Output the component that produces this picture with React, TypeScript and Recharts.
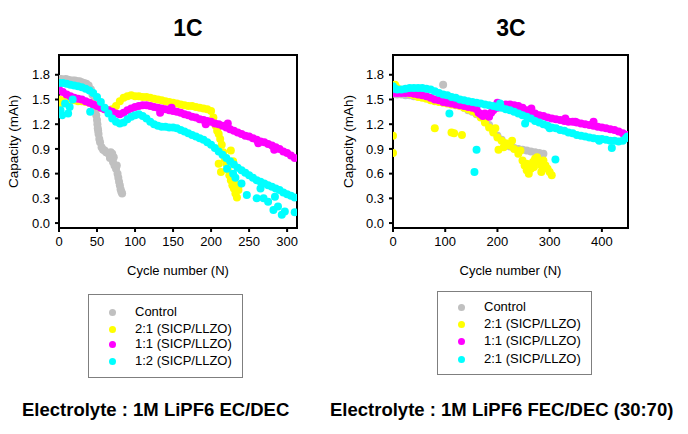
import React from 'react';
import { ScatterChart, Scatter, XAxis, YAxis, ReferenceArea } from 'recharts';

type Pt = [number, number];

const names1C = ['Control', '2:1 (SICP/LLZO)', '1:1 (SICP/LLZO)', '1:2 (SICP/LLZO)'];
const names3C = ['Control', '2:1 (SICP/LLZO)', '1:1 (SICP/LLZO)', '2:1 (SICP/LLZO)'];
const colors = ['#C0C0C0', '#FFFF00', '#FF00FF', '#00FFFF'];

const yTicks = [0, 0.3, 0.6, 0.9, 1.2, 1.5, 1.8];
const xTicks1C = [0, 50, 100, 150, 200, 250, 300];
const xTicks3C = [0, 100, 200, 300, 400];
const yDomain: [number, number] = [-0.06, 2.04];
const xDomain1C: [number, number] = [0, 313];
const xDomain3C: [number, number] = [0, 450];

// ---------- 1C ----------
const control1C: Pt[] = [
  [0, 1.75], [3, 1.75], [6, 1.74], [9, 1.75], [12, 1.74], [15, 1.73], [18, 1.73], [21, 1.73], [24, 1.72],
  [27, 1.72], [30, 1.71], [33, 1.70], [36, 1.69], [39, 1.67], [42, 1.62], [44, 1.56], [46, 1.48], [47, 1.43],
  [48, 1.38], [49, 1.31], [50, 1.25], [50.5, 1.20], [51, 1.15], [51.5, 1.12], [52, 1.08], [53, 1.02], [54, 0.98],
  [56, 0.92], [58, 0.89], [60, 0.88], [62, 0.86], [64, 0.85], [66, 0.84], [67, 0.79], [68, 0.86], [70, 0.84],
  [71, 0.74], [72, 0.80], [73, 0.70], [75, 0.66], [76, 0.70], [77, 0.60], [78, 0.55], [79, 0.50], [80, 0.46],
  [81, 0.41], [82, 0.38], [83, 0.36],
];
const ratio21_1C: Pt[] = [
  [0, 1.50], [1, 1.44], [3, 1.46], [5, 1.49], [10, 1.50], [15, 1.49], [20, 1.49], [25, 1.48], [30, 1.48], [35, 1.47],
  [40, 1.46], [45, 1.44], [50, 1.42], [55, 1.40], [60, 1.38], [65, 1.37], [70, 1.38], [75, 1.42], [80, 1.48],
  [85, 1.52], [90, 1.54], [95, 1.55], [100, 1.54], [105, 1.54], [110, 1.53], [115, 1.53], [120, 1.52], [125, 1.51],
  [130, 1.50], [135, 1.49], [140, 1.48], [145, 1.47], [150, 1.46], [155, 1.45], [160, 1.44], [165, 1.43],
  [170, 1.42], [175, 1.42], [180, 1.41], [185, 1.40], [190, 1.39], [195, 1.38], [200, 1.36], [203, 1.28],
  [206, 1.18], [208, 1.12], [210, 1.08], [212, 1.02], [214, 0.95], [216, 0.86], [218, 0.78], [220, 0.72],
  [222, 0.65], [224, 0.58], [226, 0.52], [228, 0.46], [230, 0.42], [232, 0.36], [234, 0.31], [236, 0.40],
  [210, 0.72], [213, 0.62], [226, 0.88], [229, 0.75], [231, 0.48], [236, 0.45],
];
const ratio11_1C: Pt[] = [
  [0, 1.62], [5, 1.59], [10, 1.56], [15, 1.54], [20, 1.52], [25, 1.51], [30, 1.50], [35, 1.48], [40, 1.46],
  [45, 1.44], [50, 1.42], [55, 1.40], [60, 1.38], [65, 1.37], [70, 1.35], [75, 1.33], [80, 1.32], [85, 1.34],
  [90, 1.37], [95, 1.39], [100, 1.41], [105, 1.42], [110, 1.43], [115, 1.43], [120, 1.42], [125, 1.41],
  [130, 1.40], [135, 1.39], [140, 1.38], [145, 1.37], [150, 1.36], [155, 1.35], [160, 1.34], [165, 1.32],
  [170, 1.31], [175, 1.29], [180, 1.28], [185, 1.26], [190, 1.25], [195, 1.24], [200, 1.23], [205, 1.21],
  [210, 1.20], [215, 1.18], [220, 1.16], [225, 1.14], [230, 1.12], [235, 1.10], [240, 1.08], [245, 1.06],
  [250, 1.05], [255, 1.03], [260, 1.01], [265, 0.99], [270, 0.98], [275, 0.96], [280, 0.94], [285, 0.92],
  [290, 0.90], [295, 0.87], [300, 0.85], [305, 0.82], [310, 0.79],
  [133, 1.34], [148, 1.40], [193, 1.20], [222, 1.21], [262, 0.97], [283, 0.89],
];
const ratio12_1C: Pt[] = [
  [0, 1.70], [5, 1.70], [10, 1.69], [15, 1.68], [20, 1.67], [25, 1.66], [30, 1.65], [35, 1.63], [40, 1.61],
  [45, 1.58], [50, 1.53], [55, 1.47], [60, 1.40], [65, 1.33], [70, 1.27], [75, 1.23], [80, 1.21], [85, 1.22],
  [90, 1.26], [95, 1.29], [100, 1.31], [105, 1.32], [110, 1.30], [115, 1.27], [120, 1.23], [125, 1.20],
  [130, 1.18], [135, 1.17], [140, 1.17], [145, 1.16], [150, 1.16], [155, 1.15], [160, 1.13], [165, 1.11],
  [170, 1.09], [175, 1.07], [180, 1.05], [185, 1.03], [190, 1.01], [195, 0.98], [200, 0.95], [205, 0.91],
  [210, 0.87], [215, 0.83], [220, 0.79], [225, 0.75], [230, 0.71], [235, 0.67], [240, 0.64], [245, 0.61],
  [250, 0.58], [255, 0.55], [260, 0.52], [265, 0.50], [270, 0.48], [275, 0.46], [280, 0.44], [285, 0.42],
  [290, 0.40], [295, 0.37], [300, 0.35], [305, 0.33], [310, 0.31],
  [2, 1.37], [4, 1.31], [8, 1.45], [12, 1.33], [14, 1.41], [18, 1.50], [41, 1.35], [221, 0.66], [229, 0.60],
  [232, 0.55], [240, 0.48], [247, 0.34], [260, 0.30], [265, 0.42], [269, 0.30], [275, 0.26], [282, 0.16],
  [284, 0.32], [288, 0.20], [293, 0.10], [297, 0.14], [310, 0.13],
];

// ---------- 3C ----------
const control3C: Pt[] = [
  [0, 1.57], [8, 1.56], [16, 1.56], [24, 1.55], [32, 1.55], [40, 1.54], [48, 1.54], [56, 1.53], [64, 1.52],
  [72, 1.51], [80, 1.50], [88, 1.49], [96, 1.68], [104, 1.48], [112, 1.47], [120, 1.45], [128, 1.43], [136, 1.40],
  [144, 1.37], [152, 1.35], [160, 1.32], [168, 1.29], [176, 1.26], [184, 1.19], [192, 1.12], [200, 1.06],
  [208, 1.01], [216, 0.96], [224, 0.93], [232, 0.91], [240, 0.90], [248, 0.89], [256, 0.88], [264, 0.87],
  [272, 0.86], [280, 0.85], [288, 0.84],
];
const ratio21_3C: Pt[] = [
  [0, 1.65], [4, 1.68], [8, 1.64], [16, 1.61], [24, 1.59], [32, 1.57], [40, 1.55], [48, 1.53], [56, 1.52],
  [64, 1.51], [72, 1.49], [80, 1.48], [88, 1.47], [96, 1.46], [104, 1.45], [112, 1.44], [120, 1.43], [128, 1.42],
  [136, 1.40], [144, 1.38], [152, 1.36], [160, 1.33], [168, 1.28], [176, 1.22], [184, 1.16], [192, 1.10],
  [200, 1.04], [208, 1.00], [216, 0.97], [224, 0.94], [232, 0.90], [240, 0.84], [248, 0.76], [252, 0.70],
  [256, 0.64], [260, 0.60], [264, 0.66], [268, 0.74], [272, 0.78], [276, 0.80], [280, 0.74], [284, 0.70],
  [288, 0.76], [292, 0.70], [296, 0.66], [300, 0.62], [304, 0.58],
  [0, 1.06], [0, 0.85], [80, 1.15], [112, 1.10], [117, 1.09], [132, 1.07], [196, 1.15], [202, 0.89],
  [212, 0.92], [228, 1.00], [244, 0.88], [256, 0.72], [270, 0.68], [284, 0.62],
];
const ratio11_3C: Pt[] = [
  [0, 1.58], [8, 1.58], [16, 1.58], [24, 1.58], [32, 1.58], [40, 1.57], [48, 1.56], [56, 1.55], [64, 1.54],
  [72, 1.52], [80, 1.50], [88, 1.49], [96, 1.47], [104, 1.46], [112, 1.45], [120, 1.44], [128, 1.43], [136, 1.42],
  [144, 1.41], [152, 1.40], [160, 1.38], [164, 1.34], [168, 1.32], [172, 1.30], [176, 1.33], [180, 1.31],
  [184, 1.29], [188, 1.34], [192, 1.37], [200, 1.40], [208, 1.42], [216, 1.44], [224, 1.44], [232, 1.43],
  [240, 1.42], [248, 1.40], [256, 1.37], [264, 1.35], [272, 1.33], [280, 1.31], [288, 1.30], [296, 1.28],
  [304, 1.27], [312, 1.26], [320, 1.25], [328, 1.24], [336, 1.23], [344, 1.23], [352, 1.22], [360, 1.21],
  [368, 1.20], [376, 1.19], [384, 1.18], [392, 1.17], [400, 1.16], [408, 1.15], [416, 1.14], [424, 1.13],
  [432, 1.11], [440, 1.09], [448, 1.07],
  [200, 1.46], [265, 1.39], [330, 1.27], [349, 1.23], [384, 1.23],
];
const ratio12_3C: Pt[] = [
  [0, 1.66], [4, 1.63], [8, 1.62], [16, 1.62], [24, 1.63], [32, 1.64], [40, 1.64], [48, 1.64], [56, 1.64],
  [64, 1.63], [72, 1.62], [80, 1.60], [88, 1.58], [96, 1.56], [104, 1.55], [112, 1.53], [120, 1.52], [128, 1.50],
  [136, 1.49], [144, 1.48], [152, 1.47], [160, 1.46], [168, 1.45], [176, 1.44], [184, 1.43], [192, 1.42],
  [200, 1.41], [208, 1.40], [216, 1.38], [224, 1.37], [232, 1.35], [240, 1.33], [248, 1.31], [256, 1.29],
  [264, 1.27], [272, 1.24], [280, 1.22], [288, 1.20], [296, 1.18], [304, 1.16], [312, 1.15], [320, 1.13],
  [328, 1.12], [336, 1.10], [344, 1.09], [352, 1.07], [360, 1.06], [368, 1.05], [376, 1.04], [384, 1.03],
  [392, 1.02], [400, 1.02], [408, 1.01], [416, 1.00], [424, 1.00], [432, 0.99], [440, 1.00], [446, 1.03], [449, 1.05],
  [108, 1.33], [156, 0.62], [160, 0.89], [205, 1.45], [253, 1.21], [300, 1.15], [311, 0.77], [395, 1.00], [419, 0.91],
];

const series1C = [control1C, ratio21_1C, ratio11_1C, ratio12_1C];
const series3C = [control3C, ratio21_3C, ratio11_3C, ratio12_3C];

const FONT = '"Liberation Sans", Arial, Helvetica, sans-serif';

const toObjs = (pts: Pt[]) => pts.map(([x, y]) => ({ x, y }));

function Panel(props: {
  series: Pt[][];
  xTicks: number[];
  xDomain: [number, number];
  yAxisWidth: number;
  marginRight: number;
  labelX: number;
}) {
  const { series, xTicks, xDomain, yAxisWidth, marginRight, labelX } = props;
  const yLabel = (p: any) => {
    const vb = p && p.viewBox ? p.viewBox : { x: 0, y: 55, width: yAxisWidth, height: 173 };
    const cx = (vb.x ?? 0) + labelX;
    const cy = (vb.y ?? 55) + (vb.height ?? 173) / 2;
    return (
      <text
        x={cx}
        y={cy}
        transform={`rotate(-90, ${cx}, ${cy})`}
        textAnchor="middle"
        dominantBaseline="central"
        fontSize={13.5}
        fill="#000"
        fontFamily={FONT}
      >
        Capacity (mAh)
      </text>
    );
  };
  return (
    <ScatterChart
      width={340}
      height={290}
      margin={{ top: 55, right: marginRight, bottom: 32, left: 0 }}
      style={{ fontFamily: FONT }}
    >
      <XAxis
        type="number"
        dataKey="x"
        domain={xDomain}
        ticks={xTicks}
        allowDataOverflow
        height={30}
        stroke="#000"
        strokeWidth={2}
        tickSize={4}
        tickMargin={5}
        tick={{ fill: '#000', fontSize: 13 }}
        label={{ value: 'Cycle number (N)', position: 'bottom', offset: 8, fill: '#000', fontSize: 13 }}
      />
      <YAxis
        type="number"
        dataKey="y"
        domain={yDomain}
        ticks={yTicks}
        allowDataOverflow
        width={yAxisWidth}
        stroke="#000"
        strokeWidth={2}
        tickSize={4}
        tickMargin={5}
        tick={{ fill: '#000', fontSize: 13 }}
        tickFormatter={(v: number) => v.toFixed(1)}
        label={yLabel}
      />
      {series.map((s, i) => (
        <Scatter
          key={i}
          name={String(i)}
          data={toObjs(s)}
          fill={colors[i]}
          isAnimationActive={false}
          shape={(p: any) => <circle cx={p.cx} cy={p.cy} r={4} fill={colors[i]} />}
        />
      ))}
      <ReferenceArea
        x1={xDomain[0]}
        x2={xDomain[1]}
        y1={yDomain[0]}
        y2={yDomain[1]}
        fill="none"
        fillOpacity={0}
        stroke="#000"
        strokeWidth={2}
        ifOverflow="visible"
      />
    </ScatterChart>
  );
}

function LegendBox(props: { names: string[]; left: number; top: number; rowTops: number[] }) {
  const { names, left, top } = props;
  return (
    <div
      style={{
        position: 'absolute',
        left,
        top,
        width: 155,
        height: 84,
        border: '1px solid #7f7f7f',
        boxSizing: 'border-box',
        fontFamily: FONT,
        fontSize: 13,
        color: '#000',
      }}
    >
      {names.map((n, i) => (
        <div
          key={i}
          style={{ position: 'absolute', left: 0, top: props.rowTops[i], height: 16, lineHeight: '16px', whiteSpace: 'nowrap' }}
        >
          <span
            style={{
              position: 'absolute',
              left: 20,
              top: 4.5,
              width: 7,
              height: 7,
              borderRadius: '50%',
              background: colors[i],
            }}
          />
          <span style={{ position: 'absolute', left: 46 }}>{n}</span>
        </div>
      ))}
    </div>
  );
}

export default function App() {
  return (
    <div style={{ position: 'absolute', left: 0, top: 0, width: 688, height: 434, background: '#fff', fontFamily: FONT }}>
      <div style={{ position: 'absolute', left: 138, top: 17, width: 100, textAlign: 'center', fontSize: 23, lineHeight: '23px', fontWeight: 'bold' }}>1C</div>
      <div style={{ position: 'absolute', left: 461, top: 17, width: 100, textAlign: 'center', fontSize: 23, lineHeight: '23px', fontWeight: 'bold' }}>3C</div>
      <div style={{ position: 'absolute', left: 0, top: 0 }}>
        <Panel series={series1C} xTicks={xTicks1C} xDomain={xDomain1C} yAxisWidth={59} marginRight={43} labelX={13} />
      </div>
      <div style={{ position: 'absolute', left: 340, top: 0 }}>
        <Panel series={series3C} xTicks={xTicks3C} xDomain={xDomain3C} yAxisWidth={53} marginRight={52} labelX={8} />
      </div>
      <LegendBox names={names1C} left={88} top={294} rowTops={[9, 26, 41, 58]} />
      <LegendBox names={names3C} left={437} top={291} rowTops={[7, 24, 41, 59]} />
      <div style={{ position: 'absolute', left: 22, top: 399, fontSize: 18.5, lineHeight: '22px', fontWeight: 'bold', whiteSpace: 'nowrap' }}>
        Electrolyte : 1M LiPF6 EC/DEC
      </div>
      <div style={{ position: 'absolute', left: 330, top: 399, fontSize: 18.5, lineHeight: '22px', fontWeight: 'bold', whiteSpace: 'nowrap' }}>
        Electrolyte : 1M LiPF6 FEC/DEC (30:70)
      </div>
    </div>
  );
}
